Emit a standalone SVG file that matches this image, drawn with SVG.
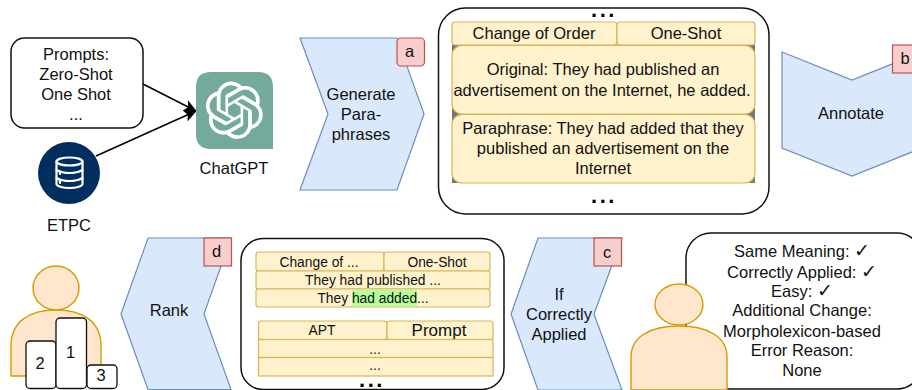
<svg xmlns="http://www.w3.org/2000/svg" width="912" height="390" viewBox="0 0 912 390">
<defs>
<style>
text{font-family:"Liberation Sans",Arial,sans-serif;font-size:16.500px;fill:#111;text-anchor:middle}
.s{font-size:13.800px}
.p{font-size:17px}
.dots{font-size:22px;font-weight:bold;fill:#000;letter-spacing:2.500px}
.box{fill:#fff;stroke:#111;stroke-width:1.5}
.step{fill:#dae8fc;stroke:#6c8ebf;stroke-width:1.2}
.badge{fill:#f8cecc;stroke:#b85450;stroke-width:1.2}
.cell{fill:#fff2cc;stroke:#d6b656;stroke-width:1.2}
.person{fill:#ffe6cc;stroke:#d79b00;stroke-width:1.4}
.pod{fill:#fff;stroke:#111;stroke-width:1.3}
.chk{font-family:"DejaVu Sans",sans-serif;font-weight:bold;font-size:19px}
</style>
<marker id="arr" markerWidth="14" markerHeight="14" refX="12" refY="6" orient="auto" markerUnits="userSpaceOnUse"><path d="M0 0L13 6L0 12L3 6Z" fill="#000"/></marker>
</defs>

<g id="connectors" stroke="#000" stroke-width="1.5" fill="none">
<path d="M143 84L196 111" marker-end="url(#arr)"/>
<path d="M96 156L196 111" marker-end="url(#arr)"/>
</g>

<g id="prompts"><rect class="box" x="11" y="38" width="132" height="90" rx="13.500"/>
<text x="76" y="60">Prompts:</text><text x="76" y="80">Zero-Shot</text><text x="76" y="100">One Shot</text><text x="76" y="120">...</text></g>

<g id="etpc"><circle cx="69" cy="173" r="31" fill="#002e5f"/>
<g fill="none" stroke="#fff" stroke-width="2.200" stroke-linecap="round">
<ellipse cx="69.500" cy="161.500" rx="13" ry="4"/>
<path d="M56.500 161.500V184C56.500 186 62 188 69.500 188S82.500 186 82.500 184V161.500"/>
<path d="M56.500 170C60 172 65 173 69.500 173S79 172 82.500 170"/>
<path d="M56.500 178C60 180 65 181 69.500 181S79 180 82.500 178"/>
<path d="M60 171V174M60 180V183"/>
</g>
<text x="69" y="231">ETPC</text></g>

<g id="chatgpt"><path d="M211 72H258Q273 72 273 87V149H211Q196 149 196 134V87Q196 72 211 72Z" fill="#74aa9c"/>
<path transform="translate(205.500 81.500) scale(2.400)" fill="#fff" d="M22.2819 9.8211a5.9847 5.9847 0 0 0-.5157-4.9108 6.0462 6.0462 0 0 0-6.5098-2.9A6.0651 6.0651 0 0 0 4.9807 4.1818a5.9847 5.9847 0 0 0-3.9977 2.9 6.0462 6.0462 0 0 0 .7427 7.0966 5.98 5.98 0 0 0 .511 4.9107 6.051 6.051 0 0 0 6.5146 2.9001A5.9847 5.9847 0 0 0 13.2599 24a6.0557 6.0557 0 0 0 5.7718-4.2058 5.9894 5.9894 0 0 0 3.9977-2.9001 6.0557 6.0557 0 0 0-.7475-7.0729zm-9.022 12.6081a4.4755 4.4755 0 0 1-2.8764-1.0408l.1419-.0804 4.7783-2.7582a.7948.7948 0 0 0 .3927-.6813v-6.7369l2.02 1.1686a.071.071 0 0 1 .038.052v5.5826a4.504 4.504 0 0 1-4.4945 4.4944zm-9.6607-4.1254a4.4708 4.4708 0 0 1-.5346-3.0137l.142.0852 4.783 2.7582a.7712.7712 0 0 0 .7806 0l5.8428-3.3685v2.3324a.0804.0804 0 0 1-.0332.0615L9.74 19.9502a4.4992 4.4992 0 0 1-6.1408-1.6464zM2.3408 7.8956a4.485 4.485 0 0 1 2.3655-1.9728V11.6a.7664.7664 0 0 0 .3879.6765l5.8144 3.3543-2.0201 1.1685a.0757.0757 0 0 1-.071 0l-4.8303-2.7865A4.504 4.504 0 0 1 2.3408 7.872zm16.5963 3.8558L13.1038 8.364 15.1192 7.2a.0757.0757 0 0 1 .071 0l4.8303 2.7913a4.4944 4.4944 0 0 1-.6765 8.1042v-5.6772a.79.79 0 0 0-.407-.667zm2.0107-3.0231l-.142-.0852-4.7735-2.7818a.7759.7759 0 0 0-.7854 0L9.409 9.2297V6.8974a.0662.0662 0 0 1 .0284-.0615l4.8303-2.7866a4.4992 4.4992 0 0 1 6.6802 4.66zM8.3065 12.863l-2.02-1.1638a.0804.0804 0 0 1-.038-.0567V6.0742a4.4992 4.4992 0 0 1 7.3757-3.4537l-.142.0805L8.704 5.459a.7948.7948 0 0 0-.3927.6813zm1.0976-2.3654l2.602-1.4998 2.6069 1.4998v2.9994l-2.5974 1.4997-2.6067-1.4997Z"/>
<text x="234" y="174">ChatGPT</text></g>

<g id="generate"><path class="step" d="M300 38H397L424 114L397 190H300L328 114Z"/>
<text x="361" y="100">Generate</text><text x="361" y="120">Para-</text><text x="361" y="140">phrases</text></g>
<g id="badge-a"><rect class="badge" x="397" y="38" width="27.500" height="28" rx="4"/><text x="409.500" y="57">a</text></g>

<g id="example-top"><rect class="box" x="438.500" y="8" width="330.500" height="206" rx="27"/>
<rect x="452" y="45" width="303" height="138" fill="#777"/>
<rect class="cell" x="452" y="22" width="165" height="23" rx="3"/>
<rect class="cell" x="617" y="22" width="138" height="23" rx="3"/>
<rect class="cell" x="452" y="45.500" width="303" height="68.500" rx="10"/>
<rect class="cell" x="452" y="114.500" width="303" height="68.500" rx="10"/>
<text x="534" y="39">Change of Order</text><text x="686" y="39">One-Shot</text>
<text x="603" y="75">Original: They had published an</text><text x="602" y="96">advertisement on the Internet, he added.</text>
<text x="603" y="134">Paraphrase: They had added that they</text><text x="603" y="154">published an advertisement on the</text><text x="603" y="174">Internet</text>
<text class="dots" x="604" y="17">...</text><text class="dots" x="604" y="203">...</text></g>

<g id="annotate"><path class="step" d="M782 52L852 80L922 52V148L852 176L782 148Z"/><text x="851" y="119">Annotate</text></g>
<g id="badge-b"><rect class="badge" x="892.500" y="45" width="27.500" height="28"/><text x="905" y="64">b</text></g>

<g id="speech"><rect class="box" x="686" y="233" width="236" height="156" rx="25"/>
<text x="802" y="257">Same Meaning: <tspan class="chk">✓</tspan></text>
<text x="802" y="278">Correctly Applied: <tspan class="chk">✓</tspan></text>
<text x="802" y="297">Easy: <tspan class="chk">✓</tspan></text>
<text x="802" y="316">Additional Change:</text>
<text x="802" y="337">Morpholexicon-based</text>
<text x="802" y="356">Error Reason:</text>
<text x="802" y="376">None</text></g>

<g id="annotator"><ellipse class="person" cx="679" cy="304.500" rx="24" ry="20.500"/>
<path class="person" d="M631 390V357C631 337 650 326 679 326S727 337 727 357V390Z"/></g>

<g id="if-correct"><path class="step" d="M538 238H622L594 314L622 390H538L511 314Z"/>
<text x="559" y="300">If</text><text x="559" y="320">Correctly</text><text x="559" y="340">Applied</text></g>
<g id="badge-c"><rect class="badge" x="594" y="238" width="27.500" height="28"/><text x="607" y="258">c</text></g>

<g id="example-bottom"><rect class="box" x="241" y="238.500" width="263" height="151" rx="22"/>
<rect class="cell" x="256" y="252" width="128" height="19" rx="2.500"/>
<rect class="cell" x="384" y="252" width="106" height="19" rx="2.500"/>
<rect class="cell" x="256" y="271" width="234" height="18" rx="2.500"/>
<rect class="cell" x="256" y="289" width="234" height="18" rx="2.500"/>
<rect x="352" y="290" width="65" height="16" fill="#b3ff99"/>
<rect class="cell" x="258.500" y="321" width="128.500" height="18.500" rx="2.500"/>
<rect class="cell" x="387" y="321" width="106" height="18.500" rx="2.500"/>
<rect class="cell" x="258.500" y="339.500" width="234.500" height="18"/>
<rect class="cell" x="258.500" y="357.500" width="234.500" height="18.500"/>
<text class="s" x="319" y="267">Change of ...</text><text class="s" x="437" y="267">One-Shot</text>
<text class="s" x="373" y="285">They had published ...</text><text class="s" x="373" y="303">They had added...</text>
<text class="s" x="322" y="335">APT</text><text class="p" x="439" y="336">Prompt</text>
<text class="s" x="375" y="354">...</text><text class="s" x="375" y="370">...</text>
<text class="dots" x="372" y="387">...</text></g>

<g id="rank"><path class="step" d="M148 238H231L204 314L231 389.500H148L121 314Z"/><text x="169" y="316">Rank</text></g>
<g id="badge-d"><rect class="badge" x="204" y="238" width="27.500" height="28"/><text x="216.500" y="257">d</text></g>

<g id="ranker"><ellipse class="person" cx="56" cy="288" rx="23" ry="22"/>
<path class="person" d="M11 376V346C11 321 30 310 56 310S101 321 101 346V376Z"/>
<rect class="pod" x="26" y="341" width="30" height="47.500" rx="4"/><text x="40" y="369">2</text>
<rect class="pod" x="56" y="318" width="30.500" height="70.500" rx="4"/><text x="70.500" y="358">1</text>
<rect class="pod" x="87" y="365" width="30" height="23.500" rx="4"/><text x="101" y="381">3</text></g>
</svg>
